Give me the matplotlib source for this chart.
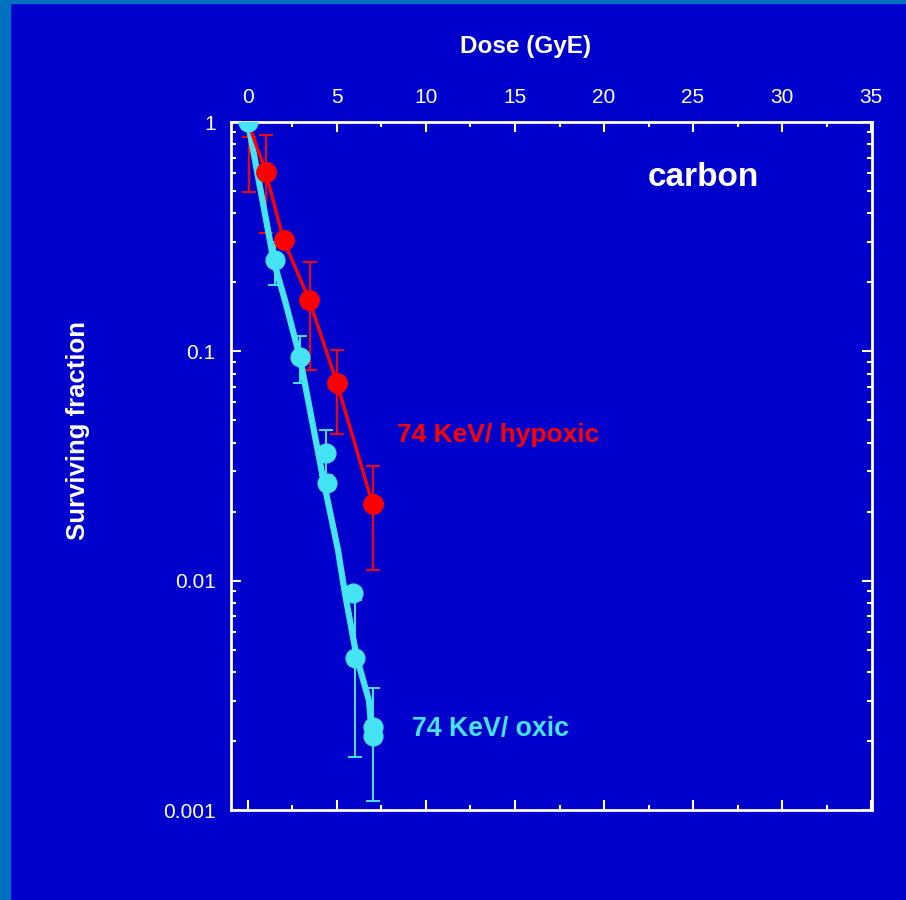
import matplotlib
matplotlib.use('Agg')
import matplotlib.pyplot as plt
from matplotlib.patches import Rectangle
from matplotlib.ticker import MultipleLocator, LogLocator, NullFormatter, FixedFormatter, FixedLocator

plt.rcParams['font.family'] = ['Liberation Sans', 'DejaVu Sans']

# oxic (cyan) measured points
oxic_dose = [0, 1.5, 2.9, 4.4, 4.45, 5.9, 6.0, 7.0, 7.0]
oxic_sf = [1.0, 0.25, 0.094, 0.036, 0.0267, 0.0088, 0.0046, 0.0023, 0.0021]
# oxic fit curve
oxic_fit_dose = [0, 1.46, 2.08, 2.92, 4.27, 5.06, 5.45, 6.12, 6.8, 6.97]
oxic_fit_sf = [1.0, 0.245, 0.167, 0.094, 0.0267, 0.0136, 0.0088, 0.0046, 0.003, 0.0021]
# oxic error bars: dose, low, high
oxic_err_dose = [1.5, 2.9, 4.4, 6.0, 7.0]
oxic_err_low = [0.195, 0.073, 0.029, 0.0017, 0.0011]
oxic_err_high = [0.30, 0.117, 0.0455, 0.0082, 0.0034]

# hypoxic (red)
hyp_dose = [0, 1.0, 2.0, 3.45, 5.0, 7.0]
hyp_sf = [1.0, 0.605, 0.306, 0.167, 0.0728, 0.0216]
hyp_err_dose = [0.05, 1.0, 3.5, 5.0, 7.0]
hyp_err_low = [0.495, 0.328, 0.083, 0.0436, 0.0111]
hyp_err_high = [0.86, 0.88, 0.245, 0.101, 0.0316]

y_ticks = [1, 0.1, 0.01, 0.001]
y_labels = ['1', '0.1', '0.01', '0.001']

blue = '#0000CC'
cyan = '#44E4F4'
red = '#FF0000'

fig = plt.figure(figsize=(9.06, 9.0), dpi=100, facecolor=blue)
# light blue border strips on the left and top edge
fig.patches.append(Rectangle((0, 0), 10 / 906, 1, transform=fig.transFigure,
                             color='#0070C0', zorder=-10))
fig.patches.append(Rectangle((0, 1 - 3 / 900), 1, 3 / 900, transform=fig.transFigure,
                             color='#0070C0', zorder=-10))

ax = fig.add_axes([231 / 906, 0.1, (872 - 231) / 906, (810 - 122) / 900])
ax.set_facecolor(blue)
ax.set_yscale('log')
ax.set_xlim(-0.95, 35.05)
ax.set_ylim(0.001, 1)

# fit line (cyan)
ax.plot(oxic_fit_dose, oxic_fit_sf, color=cyan, lw=4.5, zorder=3, solid_capstyle='round')

def errbars(x, lo, hi, c, z):
    ys = [(l * h) ** 0.5 for l, h in zip(lo, hi)]
    yerr = [[y - l for y, l in zip(ys, lo)], [h - y for y, h in zip(ys, hi)]]
    ax.errorbar(x, ys, yerr=yerr, fmt='none', ecolor=c, elinewidth=1.4,
                capsize=5, capthick=1.4, zorder=z)

# hypoxic
errbars(hyp_err_dose, hyp_err_low, hyp_err_high, red, 2)
ax.plot(hyp_dose, hyp_sf, color=red, lw=2.4, zorder=4)
ax.plot(hyp_dose[1:], hyp_sf[1:], 'o', color=red, ms=14, zorder=5)

# oxic
errbars(oxic_err_dose, oxic_err_low, oxic_err_high, cyan, 2)
ax.plot(oxic_dose, oxic_sf, 'o', color=cyan, ms=13.5, zorder=6)

# axes styling
for s in ax.spines.values():
    s.set_color('white')
    s.set_linewidth(2)

ax.xaxis.set_major_locator(MultipleLocator(5))
ax.xaxis.set_minor_locator(MultipleLocator(2.5))
ax.yaxis.set_major_locator(FixedLocator(y_ticks))
ax.yaxis.set_major_formatter(FixedFormatter(y_labels))
ax.yaxis.set_minor_locator(LogLocator(base=10, subs=range(2, 10)))
ax.yaxis.set_minor_formatter(NullFormatter())

ax.tick_params(which='both', direction='in', colors='white', top=True, bottom=True,
               left=True, right=True, labeltop=True, labelbottom=False, width=1.5)
ax.tick_params(which='major', length=7, labelsize=15)
ax.tick_params(which='minor', length=3.5)
ax.tick_params(axis='x', which='major', pad=11)
ax.tick_params(axis='y', which='major', pad=11)
ax.xaxis.set_major_formatter(plt.FuncFormatter(lambda v, p: '%d' % v))

fig.text(526 / 906, 1 - 46 / 900, 'Dose (GyE)', color='white', fontsize=17.5,
         fontweight='bold', ha='center', va='center')
fig.text(78 / 906, 1 - 430 / 900, 'Surviving fraction', color='white', fontsize=18.5,
         fontweight='bold', ha='center', va='center', rotation=90)

ax.text(22.47, 0.575, 'carbon', color='white', fontsize=24, fontweight='bold',
        ha='left', va='center')
ax.text(8.37, 0.0431, '74 KeV/ hypoxic', color=red, fontsize=19, fontweight='bold',
        ha='left', va='center')
ax.text(9.21, 0.00225, '74 KeV/ oxic', color=cyan, fontsize=19.3, fontweight='bold',
        ha='left', va='center')

fig.savefig('out.png', dpi=100, facecolor=fig.get_facecolor())
